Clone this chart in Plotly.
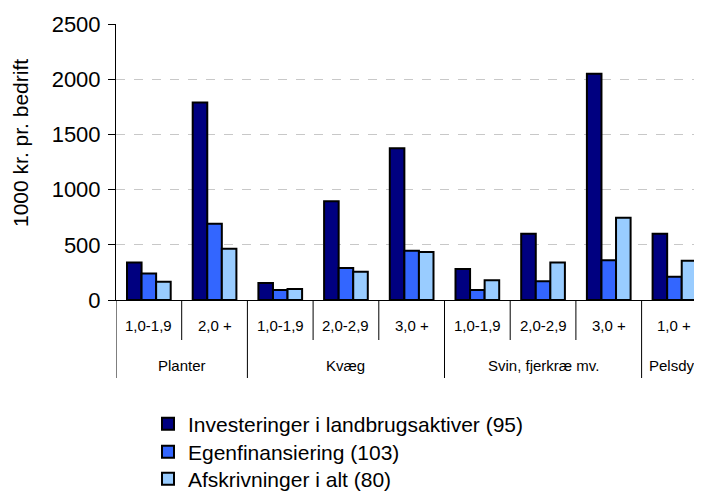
import plotly.graph_objects as go

# categories
groups = ["Planter", "Kvæg", "Svin, fjerkræ mv.", "Pelsdyr"]
group_sizes = [2, 3, 3, 1]
sub_labels = ["1,0-1,9", "2,0 +", "1,0-1,9", "2,0-2,9", "3,0 +",
              "1,0-1,9", "2,0-2,9", "3,0 +", "1,0 +"]

# series values (1000 kr. pr. bedrift)
investeringer = [340, 1790, 155, 895, 1375, 280, 600, 2050, 600]
egenfinansiering = [240, 690, 90, 290, 445, 90, 170, 360, 210]
afskrivninger = [165, 465, 100, 255, 435, 180, 340, 745, 355]

series_names = ["Investeringer i landbrugsaktiver (95)",
                "Egenfinansiering (103)",
                "Afskrivninger i alt (80)"]
series_values = [investeringer, egenfinansiering, afskrivninger]
colors = ["#000080", "#3366FF", "#99CCFF"]

FONT = "Liberation Sans, Arial, sans-serif"
# the page body has an 8px margin, so the figure is 8px smaller than the window
W, H = 694, 483
L, R, T, B = 108, 0, 16, 191
plot_w = W - L - R
plot_h = H - T - B
cat_px = 65.7

x = list(range(len(sub_labels)))
legend_ids = ["legend", "legend2", "legend3"]
legend_rows = [416, 444, 471]  # row centres in figure pixels, one legend per entry

fig = go.Figure()
for name, vals, col, lg in zip(series_names, series_values, colors, legend_ids):
    fig.add_trace(go.Bar(
        x=x, y=vals, name=name, legend=lg,
        marker=dict(color=col, line=dict(color="black", width=2)),
    ))

# separators below the axis: short ones between sub categories, long ones at group edges
edges = [0]
for n in group_sizes:
    edges.append(edges[-1] + n)
for k in range(len(sub_labels) + 1):
    long_line = k in edges
    fig.add_shape(
        type="line", xref="x", yref="paper",
        x0=k - 0.5, x1=k - 0.5, y0=0,
        y1=-(78 if long_line else 40) / plot_h,
        line=dict(color="black", width=1),
    )

for i, lab in enumerate(sub_labels):
    fig.add_annotation(x=i, y=0, xref="x", yref="y", yshift=-25,
                       text=lab, showarrow=False, yanchor="middle",
                       font=dict(size=15, color="black"))

for g, start, n in zip(groups, edges[:-1], group_sizes):
    fig.add_annotation(x=start + (n - 1) / 2, y=0, xref="x", yref="y", yshift=-65,
                       text=g, showarrow=False, yanchor="middle",
                       font=dict(size=15, color="black"))

fig.add_annotation(text="1000 kr. pr. bedrift", textangle=-90,
                   xref="paper", yref="paper", x=-(L - 12) / plot_w,
                   y=(T + plot_h - 135) / plot_h, showarrow=False,
                   xanchor="center", yanchor="middle",
                   font=dict(size=21, color="black"))

legend_style = dict(xref="container", yref="container", x=140 / W,
                    xanchor="left", yanchor="middle",
                    font=dict(size=21), bgcolor="rgba(0,0,0,0)")

fig.update_layout(
    width=W, height=H,
    margin=dict(l=L, r=R, t=T, b=B, pad=0, autoexpand=False),
    paper_bgcolor="white", plot_bgcolor="white",
    font=dict(family=FONT, size=21, color="black"),
    barmode="group", bargap=0.335, bargroupgap=0,
    xaxis=dict(range=[-0.5, -0.5 + plot_w / cat_px], showticklabels=False,
               showgrid=False, zeroline=False, showline=True,
               linecolor="black", linewidth=1, ticks=""),
    yaxis=dict(range=[0, 2500], dtick=500, ticks="outside", ticklen=7,
               tickcolor="black", showline=True, linecolor="black", linewidth=1,
               showgrid=True, gridcolor="#c8c8c8", griddash="dash", gridwidth=1,
               zeroline=False, tickfont=dict(size=22), ticklabelstandoff=3),
    showlegend=True,
)
for lg, row in zip(legend_ids, legend_rows):
    fig.update_layout({lg: dict(legend_style, y=1 - row / H)})

fig.write_html("out.html")
